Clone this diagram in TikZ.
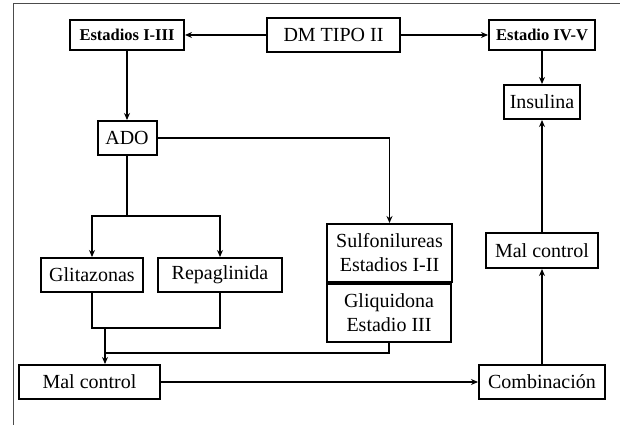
\documentclass[tikz,border=0pt]{standalone}
\usepackage{fontspec}
\setmainfont{Liberation Serif}
\usetikzlibrary{arrows.meta}

\begin{document}
\begin{tikzpicture}[x=1pt,y=-1pt]
	\tikzset{
		box/.style={draw,line width=2pt,inner sep=0pt,align=center,
			font=\fontsize{20}{24}\selectfont},
		boldbox/.style={box,font=\fontsize{16.5}{19}\selectfont\bfseries},
		link/.style={line width=1.8pt,-{Stealth[length=7pt,width=6pt]}},
		wire/.style={line width=1.8pt}
	}
	\useasboundingbox (0,0) rectangle (620,425);
	\draw [black!70, line width=1pt] (620,4) -- (13,4) -- (13,425);
	% top row
	\node [box,minimum width=133pt,minimum height=34pt] (dm) at (333.5,35) {DM TIPO II};
	\node [boldbox,minimum width=114pt,minimum height=30pt] (est13) at (127,35) {Estadios I-III};
	\node [boldbox,minimum width=106pt,minimum height=30pt] (est45) at (542,35) {Estadio IV-V};
	\node [box,minimum width=76pt,minimum height=34pt] (ins) at (542,102) {Insulina};
	\node [box,minimum width=59pt,minimum height=34pt] (ado) at (127,138) {ADO};
	% drugs
	\node [box,minimum width=102pt,minimum height=34pt] (glit) at (92,275) {Glitazonas};
	\node [box,minimum width=124pt,minimum height=34pt] (repa) at (220,275) {Repaglinida};
	\node [box,minimum width=125pt,minimum height=58pt] (sulfo) at (389.5,253) {Sulfonilureas\\Estadios I-II};
	\node [box,minimum width=124pt,minimum height=58pt] (gliq) at (389,313) {Gliquidona\\Estadio III};
	% bottom row
	\node [box,minimum width=141pt,minimum height=34pt] (malL) at (89.5,382) {Mal control};
	\node [box,minimum width=112pt,minimum height=35pt] (malR) at (542,250.5) {Mal control};
	\node [box,minimum width=126pt,minimum height=34pt] (comb) at (542,382) {Combinación};
	\coordinate (split) at (127,216);
	\coordinate (join) at (105,328);
	\coordinate (merge) at (105,353);
	% connectors
	\draw [link] (dm) -- (est13);
	\draw [link] (dm) -- (est45);
	\draw [link] (est13) -- (ado);
	\draw [link] (est45) -- (ins);
	\draw [link] (ado.east) -| (sulfo.north);
	\draw [wire] (ado) -- (split);
	\draw [link] (split) -| (glit);
	\draw [link] (split) -| (repa);
	\draw [wire] (glit.south) |- (repa.south |- join) -- (repa.south);
	\draw [link] (join) -- (join |- malL.north);
	\draw [wire] (gliq.south) |- (merge);
	\draw [link] (malL) -- (comb);
	\draw [link] (comb) -- (malR);
	\draw [link] (malR) -- (ins);
\end{tikzpicture}
\end{document}
